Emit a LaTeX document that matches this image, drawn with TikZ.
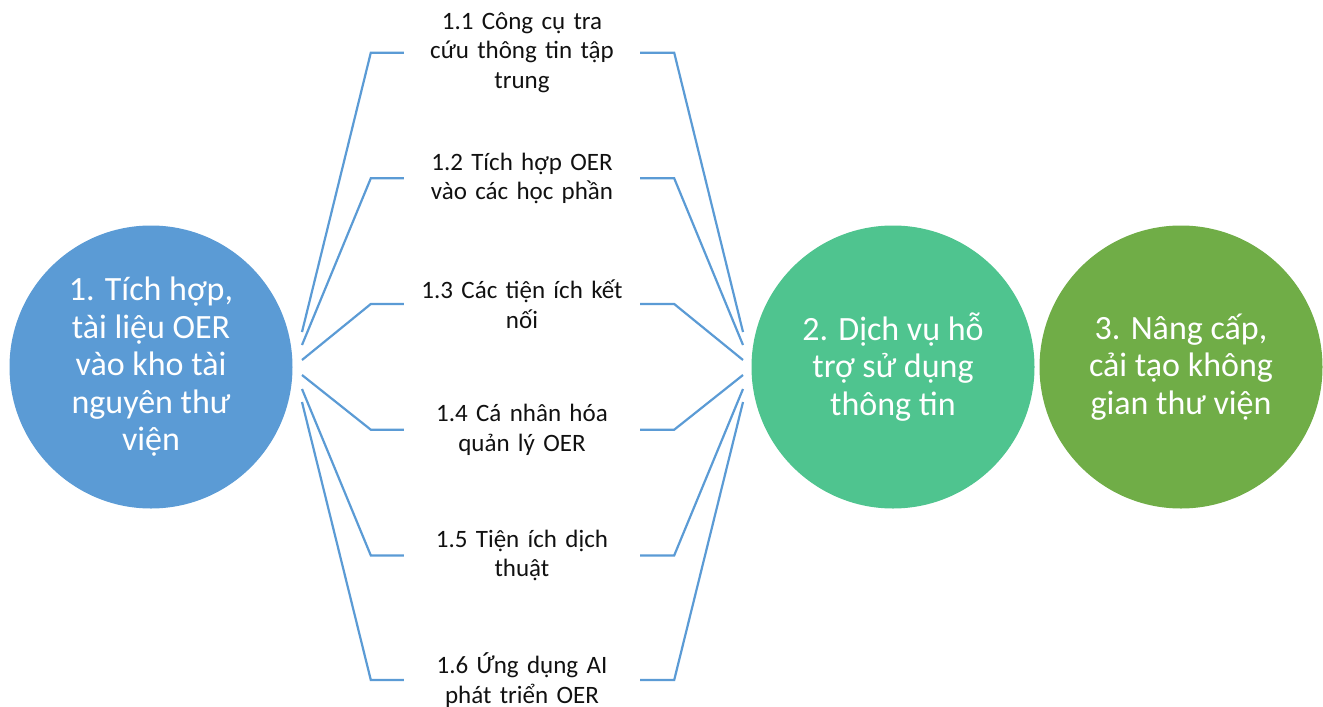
\documentclass[tikz,border=0pt]{standalone}
\usepackage{fontspec}
\setmainfont{Carlito}
\definecolor{lineblue}{HTML}{5B9BD5}
\definecolor{circblue}{HTML}{5B9BD5}
\definecolor{circgreen}{HTML}{4FC48F}
\definecolor{circolive}{HTML}{70AD47}
\definecolor{itemtext}{HTML}{111111}
\begin{document}
\begin{tikzpicture}[x=1pt,y=-1pt,
  bigcirc/.style={circle, minimum size=283pt, inner sep=0pt, text=white, align=center,
    font=\fontsize{34}{37.5}\selectfont},
  itembox/.style={text width=236pt, inner sep=0pt, align=center, text=itemtext,
    font=\fontsize{25}{29.6}\selectfont},
  conn/.style={draw=lineblue, line width=2.2pt}]
\useasboundingbox (0,0) rectangle (1323,707);

\node[bigcirc, fill=circblue] (c1) at (151,367) {1. Tích hợp,\\ tài liệu OER\\ vào kho tài\\ nguyên thư\\ viện};
\node[bigcirc, fill=circgreen] (c2) at (893,367) {2. Dịch vụ hỗ\\ trợ sử dụng\\ thông tin};
\node[bigcirc, fill=circolive] (c3) at (1181,367) {3. Nâng cấp,\\ cải tạo không\\ gian thư viện};

\node[itembox] (i1) at (522,52.7) {1.1 Công cụ tra\\ cứu thông tin tập\\ trung};
\node[itembox] (i2) at (522,178.3) {1.2 Tích hợp OER\\ vào các học phần};
\node[itembox] (i3) at (522,304) {1.3 Các tiện ích kết\\ nối};
\node[itembox] (i4) at (522,429.7) {1.4 Cá nhân hóa\\ quản lý OER};
\node[itembox] (i5) at (522,555.4) {1.5 Tiện ích dịch\\ thuật};
\node[itembox] (i6) at (522,680) {1.6 Ứng dụng AI\\ phát triển OER};

\coordinate (f1) at (302,332);
\coordinate (f2) at (302,345);
\coordinate (f3) at (302,360);
\coordinate (f4) at (302,375);
\coordinate (f5) at (302,389);
\coordinate (f6) at (302,402);
\coordinate (g1) at (743,332);
\coordinate (g2) at (743,345);
\coordinate (g3) at (743,360);
\coordinate (g4) at (743,375);
\coordinate (g5) at (743,389);
\coordinate (g6) at (743,402);

\foreach \k in {1,...,6}{
  \draw[conn] (i\k.west) -- ++(-33,0) -- (f\k);
  \draw[conn] (i\k.east) -- ++(34,0) -- (g\k);
}
\end{tikzpicture}
\end{document}
